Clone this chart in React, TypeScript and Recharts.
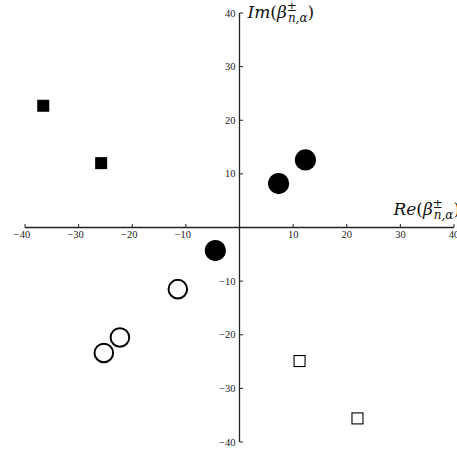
import React from "react";
import { ScatterChart, Scatter, XAxis, YAxis, ReferenceLine, ReferenceDot } from "recharts";

// root positions
const filledSquares = [
  { x: -36.6, y: 22.7 },
  { x: -25.8, y: 12.0 },
];
const filledCircles = [
  { x: 7.3, y: 8.2 },
  { x: 12.3, y: 12.6 },
  { x: -4.5, y: -4.3 },
];
const openCircles = [
  { x: -11.5, y: -11.5 },
  { x: -22.3, y: -20.5 },
  { x: -25.3, y: -23.4 },
];
const openSquares = [
  { x: 11.2, y: -24.9 },
  { x: 22.0, y: -35.6 },
];

const xTicks = [-40, -30, -20, -10, 10, 20, 30, 40];
const yTicks = [-40, -30, -20, -10, 10, 20, 30, 40];

const AXIS = "#222";
const FONT = "'Liberation Serif', 'DejaVu Serif', serif";
const LABEL_FONT = "'DejaVu Serif', 'Liberation Serif', serif";

const fmt = (v: number) => (v < 0 ? `\u2212${Math.abs(v)}` : `${v}`);

const XTick = (p: any) => {
  const v = p.payload.x;
  return (
    <g>
      <line x1={p.cx} y1={p.cy} x2={p.cx} y2={p.cy - 3.5} stroke={AXIS} strokeWidth={1} />
      <text x={p.cx + (v < 0 ? -3 : 0)} y={p.cy + 10} textAnchor="middle" fontSize={10.5} fill={AXIS} fontFamily={FONT}>
        {fmt(v)}
      </text>
    </g>
  );
};

const YTick = (p: any) => {
  const v = p.payload.y;
  return (
    <g>
      <line x1={p.cx} y1={p.cy} x2={p.cx + 3.5} y2={p.cy} stroke={AXIS} strokeWidth={1} />
      <text x={p.cx - 4} y={p.cy + 3.5} textAnchor="end" fontSize={10.5} fill={AXIS} fontFamily={FONT}>
        {fmt(v)}
      </text>
    </g>
  );
};

const AxisName = (label: string, dx: number, dy: number) => (p: any) => (
  <text x={p.cx + dx} y={p.cy + dy} fontFamily={LABEL_FONT} fontSize={17} fill="#111">
    <tspan fontStyle="italic">{label}</tspan>
    <tspan>(</tspan>
    <tspan fontStyle="italic">β</tspan>
    <tspan fontSize={12} dy={-7}>±</tspan>
    <tspan fontSize={12} fontStyle="italic" dx={-9} dy={11}>n,α</tspan>
    <tspan dy={-4}>)</tspan>
  </text>
);

const FilledSquare = (p: any) => <rect x={p.cx - 6} y={p.cy - 6} width={12} height={12} fill="#000" />;
const FilledCircle = (p: any) => <circle cx={p.cx} cy={p.cy} r={10.6} fill="#000" />;
const OpenCircle = (p: any) => <circle cx={p.cx} cy={p.cy} r={9.3} fill="#fff" stroke="#000" strokeWidth={2} />;
const OpenSquare = (p: any) => (
  <rect x={p.cx - 5.5} y={p.cy - 5.5} width={11} height={11} fill="#fff" stroke="#000" strokeWidth={1.1} />
);

export default function App() {
  return (
    <div style={{ position: "absolute", left: 0, top: 0, background: "#fff" }}>
      <ScatterChart width={457} height={454} margin={{ top: 13, right: 3, bottom: 12, left: 25 }}>
        <XAxis type="number" dataKey="x" domain={[-40, 40]} hide />
        <YAxis type="number" dataKey="y" domain={[-40, 40]} hide />
        <ReferenceLine x={0} stroke={AXIS} strokeWidth={1.3} ifOverflow="visible" />
        <ReferenceLine y={0} stroke={AXIS} strokeWidth={1.3} ifOverflow="visible" />
        <Scatter data={xTicks.map((v) => ({ x: v, y: 0 }))} shape={XTick} isAnimationActive={false} />
        <Scatter data={yTicks.map((v) => ({ x: 0, y: v }))} shape={YTick} isAnimationActive={false} />
        <ReferenceDot x={0} y={40} shape={AxisName("Im", 8, 4.5)} ifOverflow="visible" />
        <ReferenceDot x={30} y={0} shape={AxisName("Re", -7, -13)} ifOverflow="visible" />
        <Scatter data={filledSquares} shape={FilledSquare} isAnimationActive={false} />
        <Scatter data={filledCircles} shape={FilledCircle} isAnimationActive={false} />
        <Scatter data={openCircles} shape={OpenCircle} isAnimationActive={false} />
        <Scatter data={openSquares} shape={OpenSquare} isAnimationActive={false} />
      </ScatterChart>
    </div>
  );
}
